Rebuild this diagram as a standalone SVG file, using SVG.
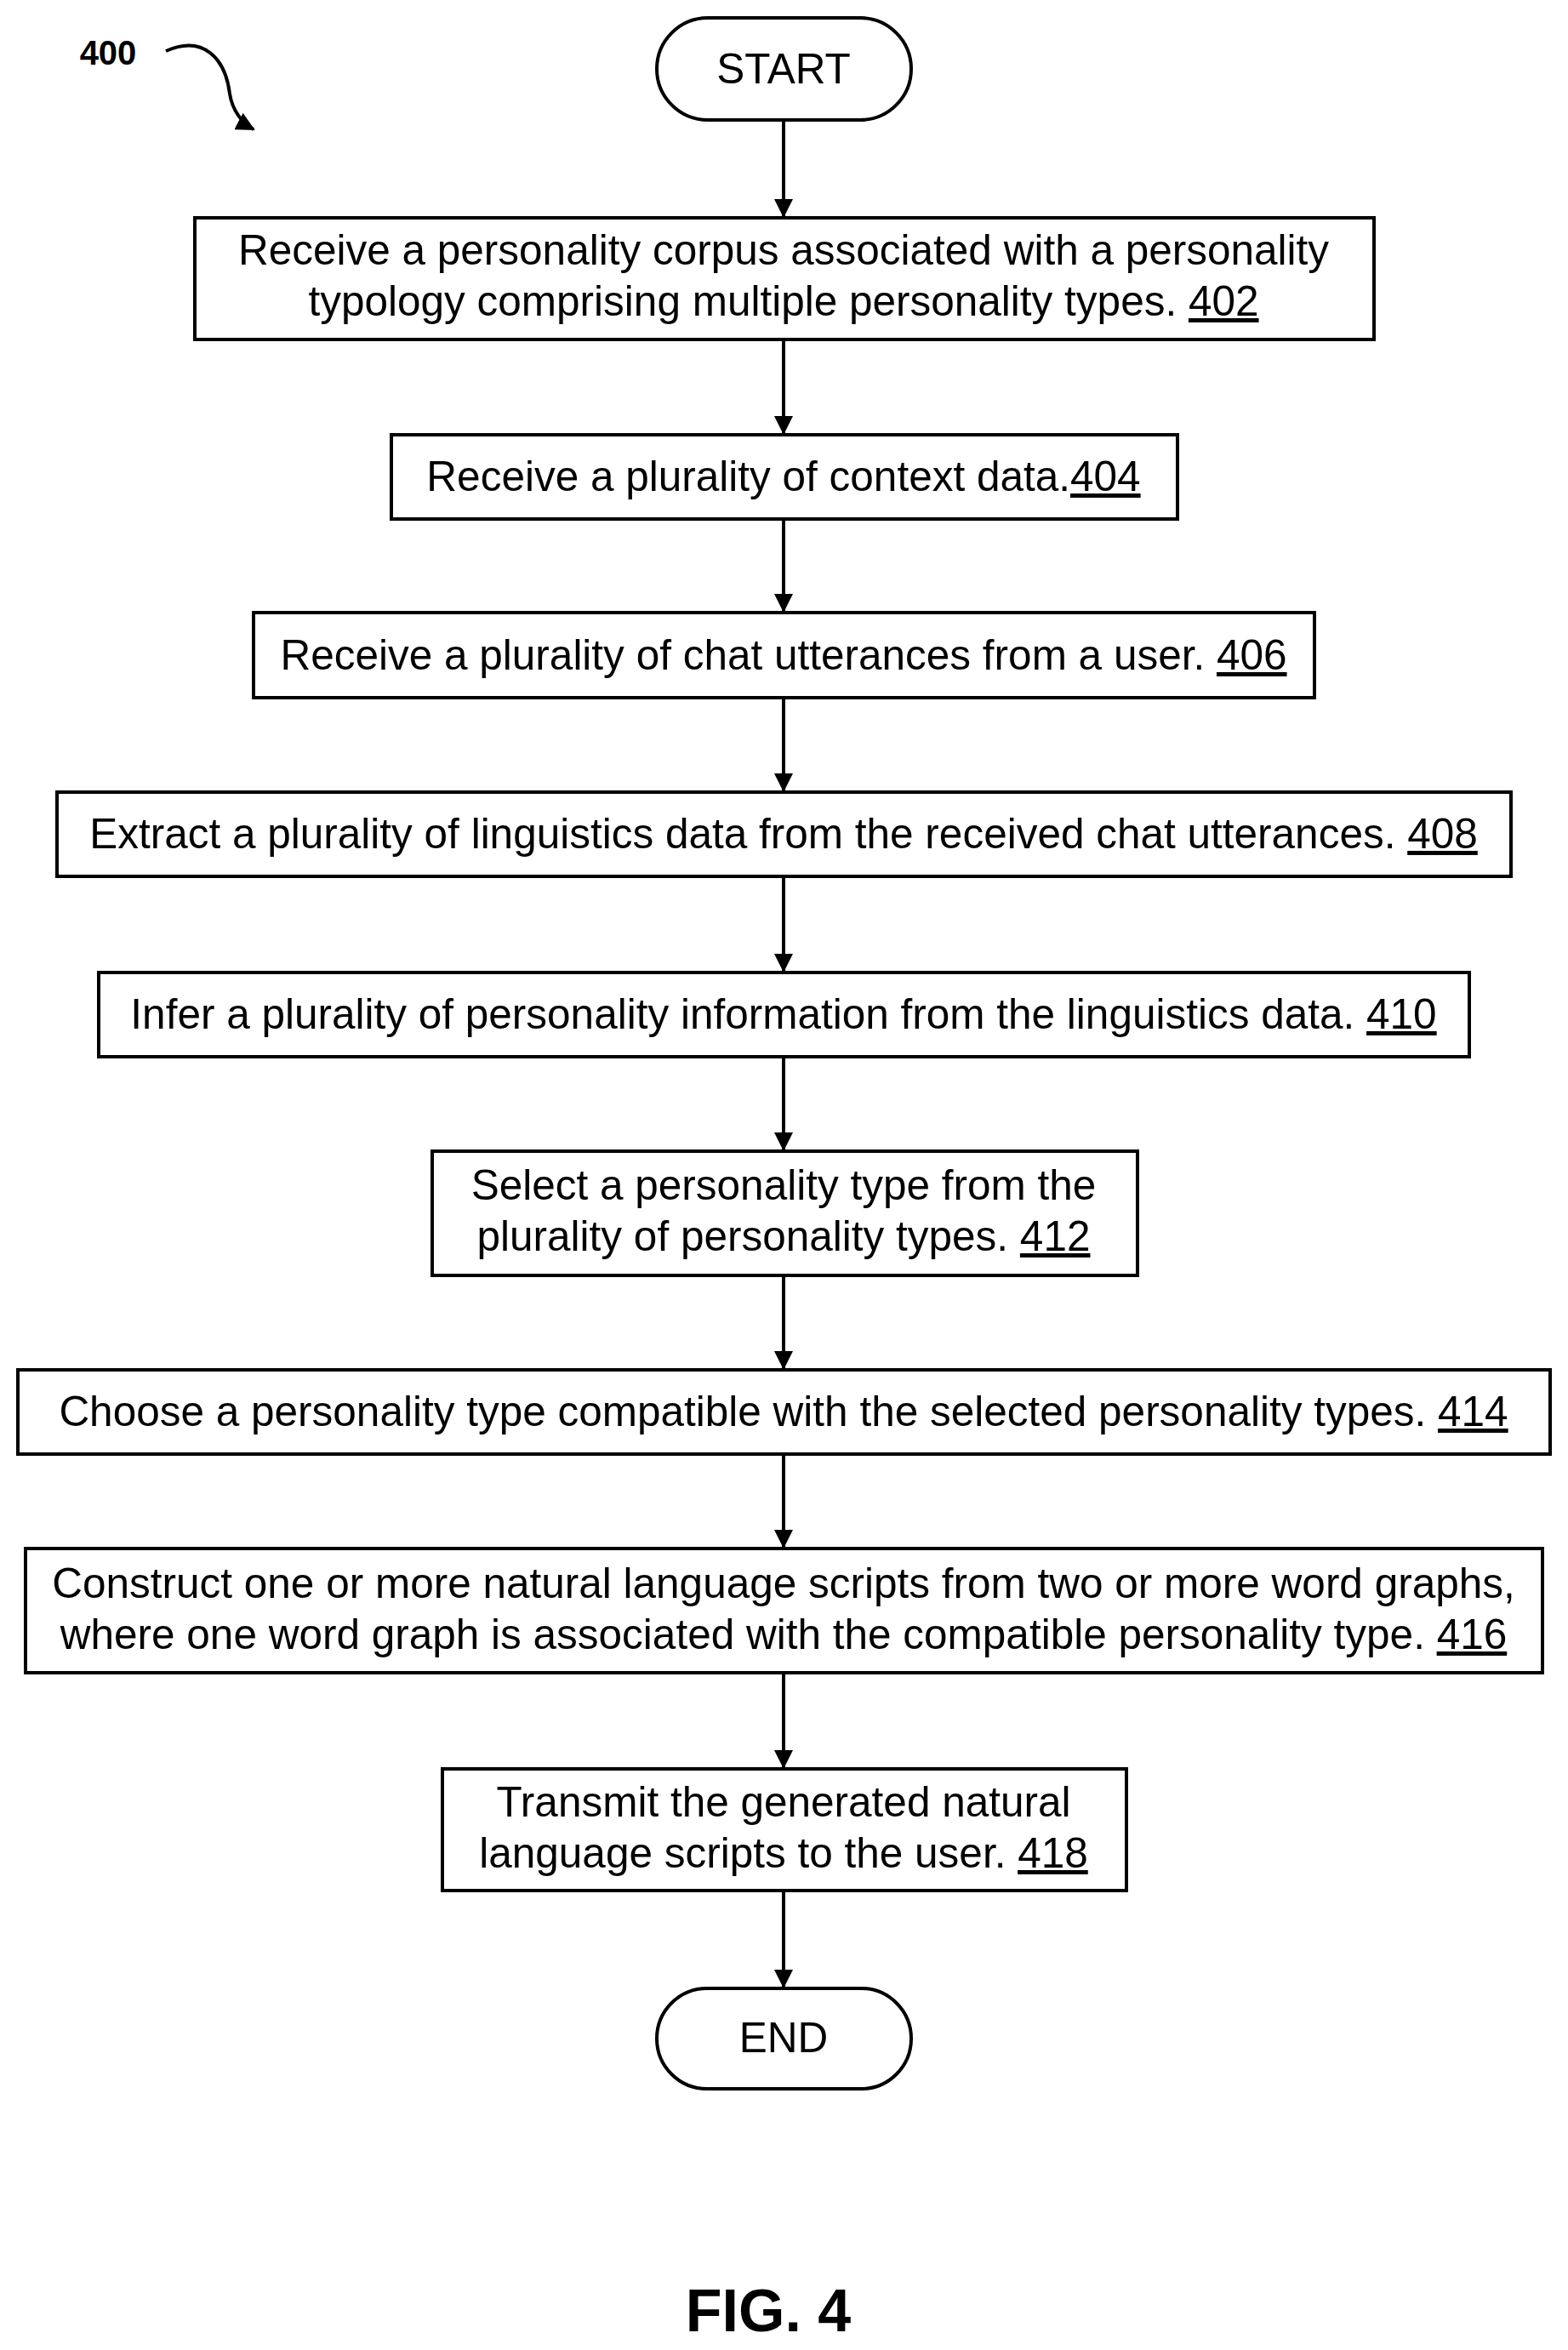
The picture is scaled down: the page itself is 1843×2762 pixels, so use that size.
<svg xmlns="http://www.w3.org/2000/svg" width="1843" height="2762" viewBox="0 0 1843 2762">
<style>
.b{fill:#fff;stroke:#000;stroke-width:4}
.t{font-family:"Liberation Sans",Arial,sans-serif;font-size:49.5px;text-anchor:middle;fill:#000}
.c{stroke:#000;stroke-width:4;fill:none}
</style>
<defs>
<marker id="h" markerWidth="22" markerHeight="22" refX="20" refY="11" orient="auto" markerUnits="userSpaceOnUse" viewBox="0 0 22 22"><path d="M0,0L22,11L0,22z"/></marker></defs>
<rect width="1843" height="2762" fill="#fff"/>
<g id="connectors">
<line class="c" x1="921" y1="141" x2="921" y2="254" marker-end="url(#h)"/>
<line class="c" x1="921" y1="399" x2="921" y2="509" marker-end="url(#h)"/>
<line class="c" x1="921" y1="610" x2="921" y2="718" marker-end="url(#h)"/>
<line class="c" x1="921" y1="820" x2="921" y2="929" marker-end="url(#h)"/>
<line class="c" x1="921" y1="1030" x2="921" y2="1141" marker-end="url(#h)"/>
<line class="c" x1="921" y1="1242" x2="921" y2="1351" marker-end="url(#h)"/>
<line class="c" x1="921" y1="1499" x2="921" y2="1608" marker-end="url(#h)"/>
<line class="c" x1="921" y1="1709" x2="921" y2="1818" marker-end="url(#h)"/>
<line class="c" x1="921" y1="1966" x2="921" y2="2077" marker-end="url(#h)"/>
<line class="c" x1="921" y1="2222" x2="921" y2="2335" marker-end="url(#h)"/>
<path class="c" d="M195,60 C240,40 265,70 270,110 C273,130 285,145 298,152" marker-end="url(#h)"/>
</g>
<text x="127" y="76" style="font-family:'Liberation Sans',Arial,sans-serif;font-size:40px;font-weight:bold" text-anchor="middle">400</text>
<g id="start"><rect class="b" x="772" y="21" width="299" height="120" rx="60"/><text class="t" x="921" y="98">START</text></g>
<g id="n402"><rect class="b" x="229" y="256" width="1386" height="143"/><text class="t" x="921" y="311">Receive a personality corpus associated with a personality</text><text class="t" x="921" y="371">typology comprising multiple personality types. <tspan text-decoration="underline">402</tspan></text></g>
<g id="n404"><rect class="b" x="460" y="511" width="924" height="99"/><text class="t" x="921" y="577">Receive a plurality of context data.<tspan text-decoration="underline">404</tspan></text></g>
<g id="n406"><rect class="b" x="298" y="720" width="1247" height="100"/><text class="t" x="921" y="787">Receive a plurality of chat utterances from a user. <tspan text-decoration="underline">406</tspan></text></g>
<g id="n408"><rect class="b" x="67" y="931" width="1709" height="99"/><text class="t" x="921" y="997">Extract a plurality of linguistics data from the received chat utterances. <tspan text-decoration="underline">408</tspan></text></g>
<g id="n410"><rect class="b" x="116" y="1143" width="1611" height="99"/><text class="t" x="921" y="1209">Infer a plurality of personality information from the linguistics data. <tspan text-decoration="underline">410</tspan></text></g>
<g id="n412"><rect class="b" x="508" y="1353" width="829" height="146"/><text class="t" x="921" y="1410">Select a personality type from the</text><text class="t" x="921" y="1470">plurality of personality types. <tspan text-decoration="underline">412</tspan></text></g>
<g id="n414"><rect class="b" x="21" y="1610" width="1801" height="99"/><text class="t" x="921" y="1676">Choose a personality type compatible with the selected personality types. <tspan text-decoration="underline">414</tspan></text></g>
<g id="n416"><rect class="b" x="30" y="1820" width="1783" height="146"/><text class="t" x="921" y="1878">Construct one or more natural language scripts from two or more word graphs,</text><text class="t" x="921" y="1938">where one word graph is associated with the compatible personality type. <tspan text-decoration="underline">416</tspan></text></g>
<g id="n418"><rect class="b" x="520" y="2079" width="804" height="143"/><text class="t" x="921" y="2135">Transmit the generated natural</text><text class="t" x="921" y="2195">language scripts to the user. <tspan text-decoration="underline">418</tspan></text></g>
<g id="end"><rect class="b" x="772" y="2337" width="299" height="118" rx="59"/><text class="t" x="921" y="2412">END</text></g>
<text x="903" y="2740" style="font-family:'Liberation Sans',Arial,sans-serif;font-size:70px;font-weight:bold" text-anchor="middle">FIG. 4</text>
</svg>
